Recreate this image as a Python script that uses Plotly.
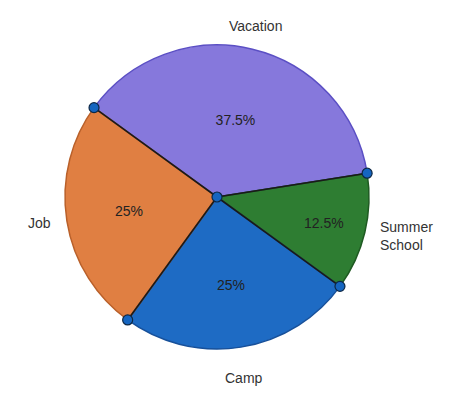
import math
import plotly.graph_objects as go

labels = ["Vacation", "Summer School", "Camp", "Job"]
label_text = ["Vacation", "Summer<br>School", "Camp", "Job"]
values = [37.5, 12.5, 25, 25]
colors = ["#8678DC", "#2E7D32", "#1E6BC4", "#E07F42"]
edge_colors = ["#5B4FC4", "#1F5A22", "#17509A", "#B9602A"]

start_deg = -54  # clockwise from 12 o'clock where first slice starts

W, H = 450, 396
ml, mr, mt, mb = 65, 81, 45, 47

fig = go.Figure()
fig.add_trace(go.Pie(
    labels=labels, values=values, sort=False, direction="clockwise",
    rotation=start_deg,
    marker=dict(colors=colors, line=dict(color=edge_colors, width=1.5)),
    textinfo="percent", textposition="inside", insidetextorientation="horizontal",
    texttemplate="%{percent:.3~%}",
    textfont=dict(family="Liberation Sans, Arial, sans-serif", size=14, color="#222"),
    hoverinfo="label+percent", showlegend=False,
    domain=dict(x=[0, 1], y=[0, 1]),
))

total = sum(values)
lines = []
dots = []
annotations = []
cum = 0.0
r = 0.5
dot_r = 5
dot_style = dict(fillcolor="#1565C0", line=dict(color="#0D2744", width=1.2), layer="above")


def dot(px, py):
    return dict(type="circle", xref="paper", yref="paper", xsizemode="pixel", ysizemode="pixel",
                xanchor=px, yanchor=py, x0=-dot_r, x1=dot_r, y0=-dot_r, y1=dot_r, **dot_style)


for lab, txt, v in zip(labels, label_text, values):
    a0 = start_deg + 360 * cum / total
    cum += v
    mid = a0 + 360 * (v / 2) / total
    th = math.radians(90 - a0)
    ex, ey = 0.5 + r * math.cos(th), 0.5 + r * math.sin(th)
    lines.append(dict(type="line", xref="paper", yref="paper", x0=0.5, y0=0.5, x1=ex, y1=ey,
                      line=dict(color="#1A1A1A", width=1.6), layer="above"))
    dots.append(dot(ex, ey))
    tm = math.radians(90 - mid)
    c, s = math.cos(tm), math.sin(tm)
    xa = "left" if c > 0.3 else ("right" if c < -0.3 else "center")
    ya = "bottom" if s > 0.3 else ("top" if s < -0.3 else "middle")
    f = 1.14 if ya == "top" else 1.09
    annotations.append(dict(xref="paper", yref="paper", x=0.5 + r * f * c, y=0.5 + r * f * s,
                            text=txt, showarrow=False, xanchor=xa, yanchor=ya, align="left",
                            font=dict(family="Liberation Sans, Arial, sans-serif", size=14, color="#333")))

shapes = lines + dots + [dot(0.5, 0.5)]

fig.update_layout(
    width=W, height=H, margin=dict(l=ml, r=mr, t=mt, b=mb),
    paper_bgcolor="white", plot_bgcolor="white",
    shapes=shapes, annotations=annotations,
)
fig.write_html("out.html")
